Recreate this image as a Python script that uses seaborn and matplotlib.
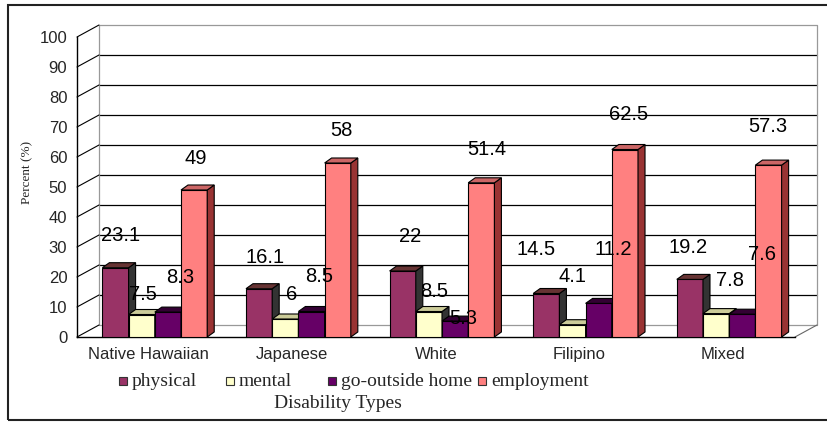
import numpy as np
import pandas as pd
import seaborn as sns
import matplotlib.pyplot as plt
import matplotlib.transforms as mtransforms
from matplotlib.patches import Polygon, Rectangle

# data
categories = ['Native Hawaiian', 'Japanese', 'White', 'Filipino', 'Mixed']
series = ['physical', 'mental', 'go-outside home', 'employment']
physical = [23.1, 16.1, 22, 14.5, 19.2]
mental = [7.5, 6, 8.5, 4.1, 7.8]
go_outside = [8.3, 8.5, 5.3, 11.2, 7.6]
employment = [49, 58, 51.4, 62.5, 57.3]
yticks = list(range(0, 101, 10))

# colours (front, side, top)
front_cols = ['#993366', '#FFFFCC', '#660066', '#FF8080']
side_cols = ['#333333', '#333333', '#330033', '#993333']
top_cols = ['#663333', '#CCCC99', '#330033', '#CC6666']

# label nudges in pixels (Excel put them a bit off the bars), per series x category
label_dx = [[5, 6, 7, -10, -2], [1, 6, 5, 0, 14], [12, 8, 8, 15, 20], [2, 4, 6, 4, -1]]
label_dy = [[32, 31, 34, 44, 32], [20, 24, 20, 48, 33], [35, 35, 3, 54, 60], [32, 33, 33, 35, 39]]
# legend marker positions (pixels)
legend_x = [123, 230, 332, 482]

df = pd.DataFrame({'category': categories * 4,
                   'series': np.repeat(series, 5),
                   'value': physical + mental + go_outside + employment})

sns.set_style('white')
plt.rcParams['font.family'] = ['Liberation Sans', 'DejaVu Sans']

W, H = 827, 422
fig = plt.figure(figsize=(W / 100, H / 100), dpi=100)
ax = fig.add_axes([77 / W, 1 - 337 / H, (795 - 77) / W, 300 / H])

sns.barplot(data=df, x='category', y='value', hue='series', order=categories,
            hue_order=series, palette=front_cols, width=0.73, saturation=1,
            edgecolor='black', linewidth=0.8, legend=False, ax=ax)

ax.set_xlim(-0.5, 4.5)
ax.set_ylim(0, 100)
ax.set_yticks(yticks)
ax.set_xlabel('')
ax.set_ylabel('')
for s in ['top', 'right']:
    ax.spines[s].set_visible(False)
for s in ['left', 'bottom']:
    ax.spines[s].set_color('black')
    ax.spines[s].set_linewidth(1)
ax.patch.set_alpha(0)
ax.tick_params(axis='y', length=5, width=1, color='black', labelsize=12, pad=2)
ax.tick_params(axis='x', length=0, labelsize=12, pad=7)
ax.set_xticks(np.arange(0.5, 4.5, 1), minor=True)
ax.tick_params(axis='x', which='minor', length=5, width=1, color='black')

# back wall / side wall in 3D look
depth_x, depth_y = 22, 12
back = mtransforms.offset_copy(ax.transData, fig=fig, x=depth_x, y=depth_y, units='dots')
for t in yticks[1:-1]:
    ax.plot([-0.5, 4.5], [t, t], color='black', lw=0.9, transform=back, zorder=0.5, clip_on=False)
ax.plot([-0.5, 4.5, 4.5, -0.5, -0.5], [100, 100, 0, 0, 100], color='#999999', lw=0.9,
        transform=back, zorder=0.5, clip_on=False)
for t in yticks:
    p0 = ax.transData.transform((-0.5, t))
    ax.plot([p0[0], p0[0] + depth_x], [p0[1], p0[1] + depth_y], color='black', lw=0.8,
            transform=mtransforms.IdentityTransform(), zorder=0.6, clip_on=False)
p0 = ax.transData.transform((4.5, 0))
ax.plot([p0[0], p0[0] + depth_x], [p0[1], p0[1] + depth_y], color='#666666', lw=0.8,
        transform=mtransforms.IdentityTransform(), zorder=0.6, clip_on=False)

# fake 3D faces on the bars
shift = 6 / (718 / 5)
bx, by = 7, 5
ident = mtransforms.IdentityTransform()
for k, cont in enumerate(ax.containers):
    for j, bar in enumerate(cont):
        bar.set_x(bar.get_x() + shift)
        bar.set_zorder(3 + 2 * k)
        x0, x1 = bar.get_x(), bar.get_x() + bar.get_width()
        h = bar.get_height()
        (X0, Y0), (X1, Y1) = ax.transData.transform([(x0, 0), (x1, h)])
        side = Polygon([(X1, Y0), (X1 + bx, Y0 + by), (X1 + bx, Y1 + by), (X1, Y1)],
                       closed=True, facecolor=side_cols[k], edgecolor='black', lw=0.8,
                       transform=ident, zorder=4 + 2 * k)
        top = Polygon([(X0, Y1), (X0 + bx, Y1 + by), (X1 + bx, Y1 + by), (X1, Y1)],
                      closed=True, facecolor=top_cols[k], edgecolor='black', lw=0.8,
                      transform=ident, zorder=4 + 2 * k)
        ax.add_artist(side)
        ax.add_artist(top)
        ax.annotate(f'{h:g}', xy=((x0 + x1) / 2, h), xytext=(label_dx[k][j], label_dy[k][j]),
                    textcoords='offset pixels', ha='center', va='center',
                    fontsize=14.5, color='black', zorder=20, annotation_clip=False)

ax.set_xticklabels(categories)

# legend (placed by hand, Excel spacing is uneven) and titles
for k, name in enumerate(series):
    fig.add_artist(Rectangle(((legend_x[k] - 4) / W, 1 - 385 / H), 8 / W, 8 / H,
                             transform=fig.transFigure, facecolor=front_cols[k],
                             edgecolor='#333333', lw=0.8))
    fig.text((legend_x[k] + 9) / W, 1 - 381 / H, name, ha='left', va='center',
             family='Liberation Serif', fontsize=14)
fig.text(338 / W, 1 - 404 / H, 'Disability Types', ha='center', va='center',
         family='Liberation Serif', fontsize=14)
fig.text(27 / W, 1 - 172 / H, 'Percent (%)', ha='center', va='center', rotation=90,
         family='Liberation Serif', fontsize=9.5)

# outer frame (right edge runs off the picture in the reference)
fig.add_artist(Rectangle((8 / W, 1 - 420 / H), (840 - 8) / W, (420 - 5) / H,
                         transform=fig.transFigure, fill=False, edgecolor='#222222', lw=1.5))

fig.savefig('out.png', dpi=100)
